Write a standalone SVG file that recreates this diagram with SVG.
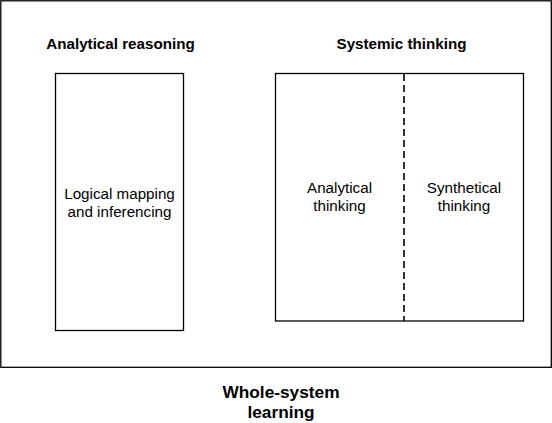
<svg xmlns="http://www.w3.org/2000/svg" width="552" height="423" viewBox="0 0 552 423">
<style>
.box{fill:#fff;stroke:#000;stroke-width:1.3}
.t{font-family:"Liberation Sans",Arial,sans-serif;fill:#000;text-anchor:middle}
.b{font-weight:bold;font-size:15.2px}
.r{font-size:15.2px}
.big{font-weight:bold;font-size:17.3px}
</style>
<rect x="0" y="0" width="552" height="423" fill="#fff"/>
<g id="whole">
<rect class="box" x="0.8" y="0.8" width="550.5" height="366.5"/>
<text class="t big" x="281" y="397.5">Whole-system</text>
<text class="t big" x="281" y="418">learning</text>
</g>
<g id="analytical-reasoning">
<text class="t b" x="120.5" y="48.5">Analytical reasoning</text>
<rect class="box" x="55.5" y="73.5" width="128" height="257"/>
<text class="t r" x="119.5" y="198.5">Logical mapping</text>
<text class="t r" x="119.5" y="217">and inferencing</text>
</g>
<g id="systemic-thinking">
<text class="t b" x="401.5" y="48.5">Systemic thinking</text>
<rect class="box" x="275.5" y="73.5" width="248" height="247.5"/>
<text class="t r" x="339.5" y="192.5">Analytical</text>
<text class="t r" x="339.5" y="210.5">thinking</text>
<text class="t r" x="464" y="192.5">Synthetical</text>
<text class="t r" x="464" y="210.5">thinking</text>
</g>
<g id="connectors">
<line x1="404" y1="74" x2="404" y2="321" stroke="#000" stroke-width="1.6" stroke-dasharray="7,4"/>
</g>
</svg>
